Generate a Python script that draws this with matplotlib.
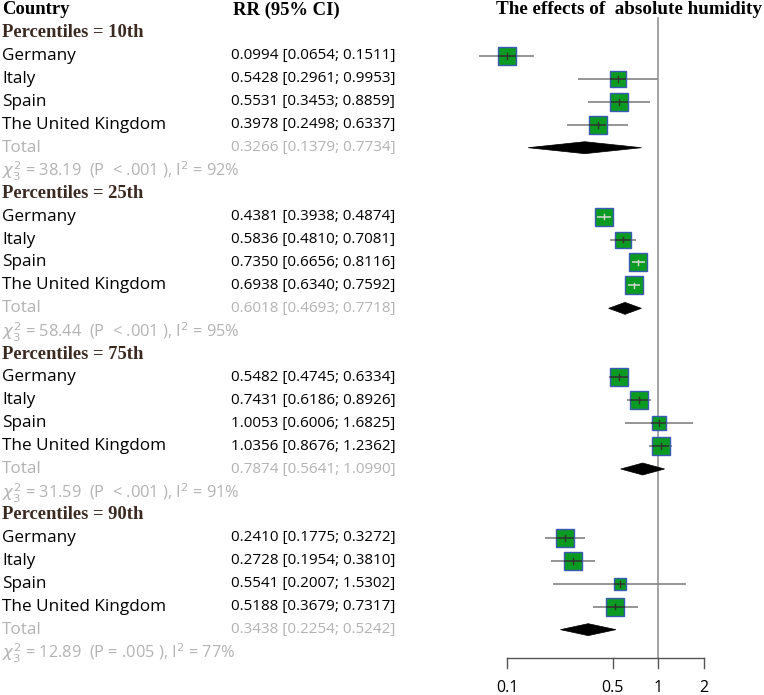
import numpy as np
import matplotlib
matplotlib.use("Agg")
import matplotlib.pyplot as plt
from matplotlib.patches import Polygon

# ---------------- data ----------------
countries = ["Germany", "Italy", "Spain", "The United Kingdom"]
percentiles = ["10th", "25th", "75th", "90th"]

rr_est = [[0.0994, 0.5428, 0.5531, 0.3978],
          [0.4381, 0.5836, 0.7350, 0.6938],
          [0.5482, 0.7431, 1.0053, 1.0356],
          [0.2410, 0.2728, 0.5541, 0.5188]]
rr_lo = [[0.0654, 0.2961, 0.3453, 0.2498],
         [0.3938, 0.4810, 0.6656, 0.6340],
         [0.4745, 0.6186, 0.6006, 0.8676],
         [0.1775, 0.1954, 0.2007, 0.3679]]
rr_hi = [[0.1511, 0.9953, 0.8859, 0.6337],
         [0.4874, 0.7081, 0.8116, 0.7592],
         [0.6334, 0.8926, 1.6825, 1.2362],
         [0.3272, 0.3810, 1.5302, 0.7317]]
weights = [[27.5, 21.7, 25.4, 25.4],
           [24.8, 23.9, 25.6, 25.6],
           [27.7, 27.7, 18.6, 25.9],
           [29.5, 29.5, 11.5, 29.5]]

total_est = [0.3266, 0.6018, 0.7874, 0.3438]
total_lo = [0.1379, 0.4693, 0.5641, 0.2254]
total_hi = [0.7734, 0.7718, 1.0990, 0.5242]

chi2 = [38.19, 58.44, 31.59, 12.89]
chi_df = [3, 3, 3, 3]
p_text = ["P  < .001", "P  < .001", "P  < .001", "P = .005"]
i2 = [92, 95, 91, 77]

xticks = [0.1, 0.5, 1, 2]
xtick_labels = ["0.1", "0.5", "1", "2"]

# ---------------- layout ----------------
W, H = 764, 695
DPI = 100
plt.rcParams["mathtext.fontset"] = "dejavusans"
fig = plt.figure(figsize=(W / DPI, H / DPI), dpi=DPI)

row_h = 22.95
y0 = 10.0
ytop = -y0 / row_h
ybot = (H - y0) / row_h

# overlay for text: x in pixels, y in rows
axt = fig.add_axes([0, 0, 1, 1])
axt.set_xlim(0, W)
axt.set_ylim(ybot, ytop)
axt.axis("off")

# forest axes: log x, same rows
px0, px_per_dec = 507.0, 151.4
xl = 10 ** (-1 - px0 / px_per_dec)
xr = 10 ** (-1 + (W - px0) / px_per_dec)
ax = fig.add_axes([0, 0, 1, 1])
ax.set_xscale("log")
ax.set_xlim(xl, xr)
ax.set_ylim(ybot, ytop)
ax.axis("off")
ax.patch.set_alpha(0)

sans = "Open Sans"
serif = "Liberation Serif"
fs_name = 12.3
fs_num = 11
fs_het = 11.8
fs_bold = 13.4
gray = "#b3b3b3"
brown = "#3b2a22"

# header
axt.text(2, 0, "Country", fontfamily=serif, fontweight="bold", fontsize=fs_bold, va="center", ha="left")
axt.text(233, 0, "RR (95% CI)", fontfamily=serif, fontweight="bold", fontsize=fs_bold, va="center", ha="left")
axt.text(629, -0.02, "The effects of  absolute humidity", fontfamily=serif, fontweight="bold",
         fontsize=13.8, va="center", ha="center")

col_rr = 231

def fmt(e, l, h):
    return f"{e:.4f} [{l:.4f}; {h:.4f}]"

row = 1
for g, pct in enumerate(percentiles):
    axt.text(2, row, f"Percentiles = {pct}", fontfamily=serif, fontweight="bold", fontsize=fs_bold,
             color=brown, va="center", ha="left")
    row += 1
    for c, name in enumerate(countries):
        e, l, h, w = rr_est[g][c], rr_lo[g][c], rr_hi[g][c], weights[g][c]
        axt.text(2, row, name, fontfamily=sans, fontsize=fs_name, va="center", ha="left")
        axt.text(col_rr, row, fmt(e, l, h), fontfamily=sans, fontsize=fs_num, va="center", ha="left")
        side_px = 3.43 * np.sqrt(w)
        ms = side_px * 72.0 / DPI
        xp = lambda v: px0 + np.log10(v / 0.1) * px_per_dec
        inside = (xp(e) - xp(l) < side_px / 2) and (xp(h) - xp(e) < side_px / 2)
        ax.plot([l, h], [row, row], color="#8c8c8c", lw=1.3, zorder=2, solid_capstyle="butt")
        ax.plot([e], [row], marker="s", ms=ms, mfc="#0b9a22", mec="#3a5bb5", mew=1.0,
                ls="none", zorder=3)
        inner = "#d9d9d9" if inside else "#303030"
        lo_c = max(l, 10 ** (np.log10(e) - side_px / 2 / px_per_dec))
        hi_c = min(h, 10 ** (np.log10(e) + side_px / 2 / px_per_dec))
        ax.plot([lo_c, hi_c], [row, row], color=inner, lw=1.1, zorder=4, solid_capstyle="butt")
        ax.plot([e, e], [row - 0.12, row + 0.12], color=inner, lw=1.0, zorder=4)
        row += 1
    # total
    axt.text(2, row, "Total", fontfamily=sans, fontsize=fs_name, color=gray, va="center", ha="left")
    axt.text(col_rr, row, fmt(total_est[g], total_lo[g], total_hi[g]), fontfamily=sans,
             fontsize=fs_num, color=gray, va="center", ha="left")
    hd = 0.26
    dia = Polygon([(total_lo[g], row), (total_est[g], row - hd), (total_hi[g], row),
                   (total_est[g], row + hd)], closed=True, fc="black", ec="black", lw=0.5, zorder=3)
    ax.add_patch(dia)
    row += 1
    # heterogeneity
    axt.text(2, row + 0.05,
             rf"$\chi^2_{{{chi_df[g]}}}$ = {chi2[g]:.2f}  ({p_text[g]} ), I$^2$ = {i2[g]}%",
             fontfamily=sans, fontsize=fs_het, color=gray, va="center", ha="left")
    row += 1

# reference line at 1
y_axis = (658 - y0) / row_h
ax.plot([1, 1], [(18 - y0) / row_h, y_axis], color="#8a8a8a", lw=1.1, zorder=1)

# x axis
ax.plot([xticks[0], xticks[-1]], [y_axis, y_axis], color="#555555", lw=1.0)
tick_len = 10 / row_h
for t, lab in zip(xticks, xtick_labels):
    ax.plot([t, t], [y_axis, y_axis + tick_len], color="#555555", lw=1.0)
    ax.text(t, (688 - y0) / row_h, lab, fontfamily=sans, fontsize=11.5, ha="center", va="center")

fig.savefig("out.png", dpi=DPI)
